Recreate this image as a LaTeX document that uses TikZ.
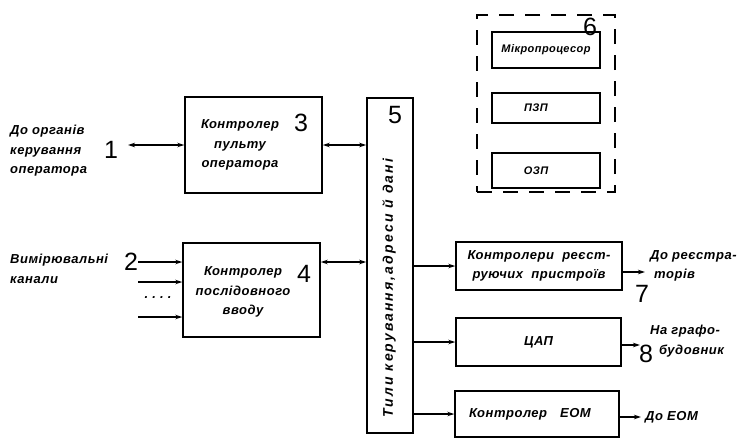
\documentclass[tikz,border=0pt]{standalone}
\usepackage{fontspec}
\setmainfont{Liberation Sans}
\usetikzlibrary{arrows.meta}

\newcommand{\lblfont}{\fontsize{13}{19.5}\selectfont\bfseries\itshape\addfontfeature{LetterSpace=4}}
\newcommand{\smallfont}{\fontsize{11}{12}\selectfont\bfseries\itshape\addfontfeature{LetterSpace=4}}
\newcommand{\busfont}{\fontsize{14}{16}\selectfont\bfseries\itshape\addfontfeature{LetterSpace=15}}

\begin{document}
\begin{tikzpicture}[x=1pt, y=-1pt,
    box/.style={draw, line width=1.4pt, align=center, inner sep=1pt, font=\lblfont},
    membox/.style={draw, line width=1.3pt, minimum width=108pt, font=\smallfont},
    dbox/.style={draw, line width=1.5pt, dash pattern=on 15pt off 11pt},
    num/.style={font=\fontsize{25}{25}\selectfont, inner sep=0pt},
    txt/.style={align=left, font=\lblfont, inner sep=0pt},
    arr/.style={-{Stealth[length=7pt,width=4.5pt]}, line width=1.4pt},
    darr/.style={{Stealth[length=7pt,width=4.5pt]}-{Stealth[length=7pt,width=4.5pt]}, line width=1.4pt}
  ]
    \fill[white] (0,0) rectangle (749,439);
    \useasboundingbox (0,0) rectangle (749,439);

    % controllers on the left
    \node[box, minimum width=137pt, minimum height=96pt] (panelctl) at (253.5,145) {};
    \node[txt, align=center] (paneltxt) at (240,145) {Контролер\\пульту\\оператора};
    \node[box, minimum width=137pt, minimum height=94pt] (serialctl) at (251.5,290) {};
    \node[txt, align=center] (serialtxt) at (243,292) {Контролер\\послідовного\\вводу};

    % system bus
    \node[draw, line width=1.6pt, minimum width=46pt, minimum height=335pt] (bus) at (390,265.5) {};
    \node[rotate=90, font=\busfont, inner sep=0pt] (buslbl) at (389,288) {Тили керування,адреси й дані};

    % processor unit
    \node[dbox, minimum width=138pt, minimum height=177pt] (cpuunit) at (546,103.5) {};
    \node[membox, minimum height=36pt] (cpu) at (546,50) {Мікропроцесор};
    \node[membox, minimum height=30pt] (rom) at (546,108) {ПЗП\hspace*{20pt}};
    \node[membox, minimum height=35pt] (ram) at (546,170.5) {ОЗП\hspace*{20pt}};

    % controllers on the right
    \node[box, minimum width=166pt, minimum height=48pt] (recctl) at (539,266)
      {Контролери\ \ реєст-\\руючих\ \ пристроїв};
    \node[box, minimum width=165pt, minimum height=48pt] (dac) at (538.5,342) {ЦАП};
    \node[box, minimum width=164pt, minimum height=46pt] (eomctl) at (537,414)
      {Контролер\quad ЕОМ\hspace*{14pt}};

    % outer labels
    \node[txt, anchor=north west] (oplbl) at (10,125) {До органів\\керування\\оператора};
    \node[txt, anchor=north west] (measlbl) at (10,254) {Вимірювальні\\канали};
    \node[txt, anchor=north west] (reclbl) at (650,250) {До реєстра-\\\hspace*{4pt}торів};
    \node[txt, anchor=north west] (plotlbl) at (650,325) {На графо-\\\hspace*{9pt}будовник};
    \node[txt, anchor=west] (eomlbl) at (645,417) {До ЕОМ};
    \node[txt] (dots) at (158,298) {.\ .\ .\ .};

    % numbers
    \node[num] (n1) at (111,150) {1};
    \node[num] (n2) at (131,262) {2};
    \node[num] (n3) at (301,123) {3};
    \node[num] (n4) at (304,274) {4};
    \node[num] (n5) at (395,115) {5};
    \node[num] (n6) at (590,27) {6};
    \node[num] (n7) at (642,294) {7};
    \node[num] (n8) at (646,354) {8};

    % connections
    \coordinate (opend) at (128,145);
    \draw[darr] (opend) -- (opend -| panelctl.west);
    \draw[darr] (panelctl.east) -- (panelctl.east -| bus.west);
    \foreach \n/\y in {in1/262, in2/282, in3/317}
      \coordinate (\n) at (138,\y);
    \foreach \n in {in1, in2, in3}
      \draw[arr] (\n) -- (\n -| serialctl.west);
    \draw[darr] (in1 -| serialctl.east) -- (in1 -| bus.west);
    \foreach \b in {recctl, dac, eomctl}
      \draw[arr] (\b.west -| bus.east) -- (\b.west);
    \coordinate (recout) at (645,272);
    \coordinate (dacout) at (640,345);
    \coordinate (eomout) at (641,417);
    \draw[arr] (recctl.east |- recout) -- (recout);
    \draw[arr] (dac.east |- dacout) -- (dacout);
    \draw[arr] (eomctl.east |- eomout) -- (eomout);
\end{tikzpicture}
\end{document}
